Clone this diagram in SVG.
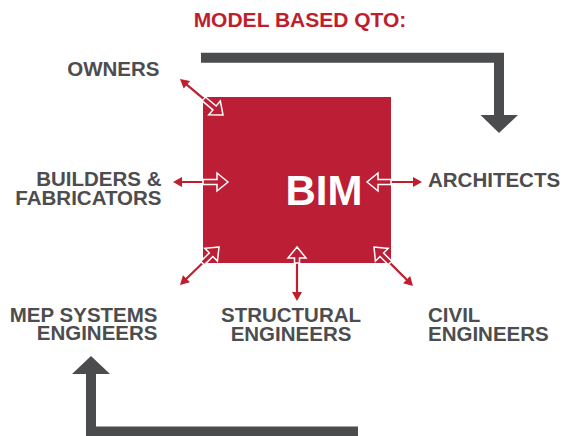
<svg xmlns="http://www.w3.org/2000/svg" width="564" height="436" viewBox="0 0 564 436">
<style>
.lbl{font-family:"Liberation Sans",Arial,sans-serif;font-weight:bold;font-size:20.5px;fill:#4d4d4f}
.title{font-family:"Liberation Sans",Arial,sans-serif;font-weight:bold;font-size:21px;fill:#be1e2d}
.bim{font-family:"Liberation Sans",Arial,sans-serif;font-weight:bold;font-size:42px;fill:#ffffff}
.flow{fill:none;stroke:#4b4c4e;stroke-width:10;stroke-linejoin:miter}
.flowhead{fill:#4b4c4e}
.link{stroke:#be1e2d;stroke-width:2.2;fill:none}
.redhead{fill:#be1e2d}
.hollow{fill:#bc1f35;stroke:#ffffff;stroke-width:1.5;stroke-linejoin:miter}
</style>
<defs>
<path id="rh" d="M0,0 L-9,-5 L-9,5 Z"/>
</defs>
<text class="title" x="300" y="27" text-anchor="middle">MODEL BASED QTO:</text>
<g id="bim">
<rect x="203" y="97" width="188" height="166" fill="#bc1f35"/>
<text class="bim" x="285.5" y="205">BIM</text>
</g>
<g id="owners"><text class="lbl" x="159.5" y="76" text-anchor="end">OWNERS</text></g>
<g id="builders"><text class="lbl" text-anchor="end"><tspan x="161.5" y="186">BUILDERS &amp;</tspan><tspan x="161.5" y="205">FABRICATORS</tspan></text></g>
<g id="architects"><text class="lbl" x="428" y="187">ARCHITECTS</text></g>
<g id="mep"><text class="lbl" text-anchor="end"><tspan x="157.5" y="322">MEP SYSTEMS</tspan><tspan x="157.5" y="340">ENGINEERS</tspan></text></g>
<g id="structural"><text class="lbl" text-anchor="middle"><tspan x="291" y="322">STRUCTURAL</tspan><tspan x="291" y="341">ENGINEERS</tspan></text></g>
<g id="civil"><text class="lbl"><tspan x="428" y="322">CIVIL</tspan><tspan x="428" y="341">ENGINEERS</tspan></text></g>
<g id="connectors">
<path class="flow" d="M201,57.7 H499 V118"/>
<polygon class="flowhead" points="480.5,115 518,115 499,133"/>
<path class="flow" d="M91,372 V431.5 H358"/>
<polygon class="flowhead" points="72,374 110,374 91,356"/>
<line class="link" x1="184.6" y1="82.9" x2="211.5" y2="105.4"/>
<use href="#rh" class="redhead" transform="translate(180,79) rotate(219.9)"/>
<path class="hollow" transform="translate(223,115) rotate(39.9)" d="M0,0 L-11,-9 L-11,-2.5 L-25,-2.5 L-25,2.5 L-11,2.5 L-11,9 Z"/>
<line class="link" x1="179" y1="182" x2="213" y2="182"/>
<use href="#rh" class="redhead" transform="translate(173,182) rotate(180)"/>
<path class="hollow" transform="translate(228,182)" d="M0,0 L-11,-9 L-11,-2.5 L-25,-2.5 L-25,2.5 L-11,2.5 L-11,9 Z"/>
<line class="link" x1="382" y1="182" x2="416" y2="182"/>
<use href="#rh" class="redhead" transform="translate(422,182)"/>
<path class="hollow" transform="translate(367,182) rotate(180)" d="M0,0 L-11,-9 L-11,-2.5 L-24,-2.5 L-24,2.5 L-11,2.5 L-11,9 Z"/>
<line class="link" x1="184.3" y1="280.8" x2="208.3" y2="257.5"/>
<use href="#rh" class="redhead" transform="translate(180,285) rotate(135.7)"/>
<path class="hollow" transform="translate(219,247) rotate(-44.3)" d="M0,0 L-11,-9 L-11,-2.5 L-23,-2.5 L-23,2.5 L-11,2.5 L-11,9 Z"/>
<line class="link" x1="297" y1="295" x2="297" y2="260"/>
<use href="#rh" class="redhead" transform="translate(297,301) rotate(90)"/>
<path class="hollow" transform="translate(297,247) rotate(-90)" d="M0,0 L-11,-9 L-11,-2.5 L-16,-2.5 L-16,2.5 L-11,2.5 L-11,9 Z"/>
<line class="link" x1="408.8" y1="281.8" x2="384.6" y2="257.6"/>
<use href="#rh" class="redhead" transform="translate(413,286) rotate(45)"/>
<path class="hollow" transform="translate(374,247) rotate(-135)" d="M0,0 L-11,-9 L-11,-2.5 L-22.6,-2.5 L-22.6,2.5 L-11,2.5 L-11,9 Z"/>
</g>
</svg>
